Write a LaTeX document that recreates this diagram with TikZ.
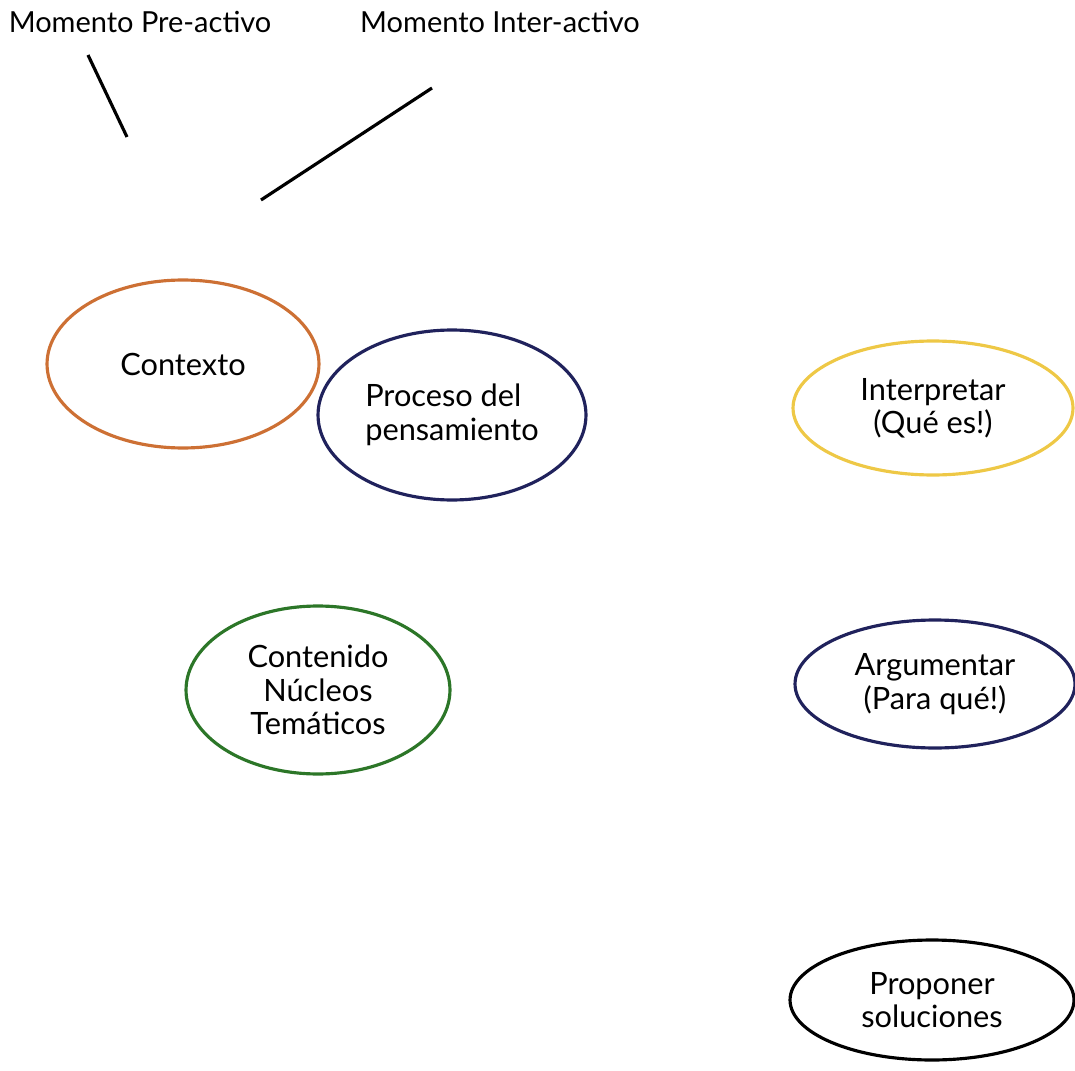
\documentclass[tikz,border=0pt]{standalone}
\usepackage{fontspec}
\setmainfont{Lato}
\usetikzlibrary{shapes.geometric, positioning, calc}
\definecolor{naranja}{RGB}{205,112,52}
\definecolor{marino}{RGB}{32,34,92}
\definecolor{amarillo}{RGB}{238,200,70}
\definecolor{verde}{RGB}{44,118,40}

\begin{document}
\begin{tikzpicture}[x=0.02cm, y=-0.02cm,
    momento/.style={font=\fontsize{16.5}{19}\selectfont, text=black},
    burbuja/.style={ellipse, draw, line width=1.8pt, inner sep=0pt, align=center,
      font=\fontsize{17.5}{19}\selectfont, text=black}]
  \useasboundingbox (0,0) rectangle (1075,1071);
  \node[momento] (pre) at (140,22) {Momento Pre-activo};
  \node[momento] (inter) at (500,22) {Momento Inter-activo};
  \coordinate (preA) at (88,55);
  \coordinate (preB) at (127,137);
  \coordinate (interA) at (432,88);
  \coordinate (interB) at (261,200);
  \draw[line width=1.8pt] (preA)--(preB);
  \draw[line width=1.8pt] (interA)--(interB);
  \node[burbuja, draw=naranja, minimum width=5.44cm, minimum height=3.36cm] (contexto) at (183,364) {Contexto};
  \node[burbuja, draw=marino, minimum width=5.36cm, minimum height=3.4cm, align=left] (proceso) at (452,415) {Proceso del\\pensamiento};
  \node[burbuja, draw=amarillo, minimum width=5.6cm, minimum height=2.68cm] (interpretar) at (933,408) {Interpretar\\(Qué es!)};
  \node[burbuja, draw=verde, minimum width=5.28cm, minimum height=3.36cm] (contenido) at (318,690) {Contenido\\Núcleos\\Temáticos};
  \node[burbuja, draw=marino, minimum width=5.6cm, minimum height=2.56cm] (argumentar) at (935,684) {Argumentar\\(Para qué!)};
  \node[burbuja, draw=black, minimum width=5.68cm, minimum height=2.4cm] (proponer) at (932,1000) {Proponer\\soluciones};
\end{tikzpicture}
\end{document}
